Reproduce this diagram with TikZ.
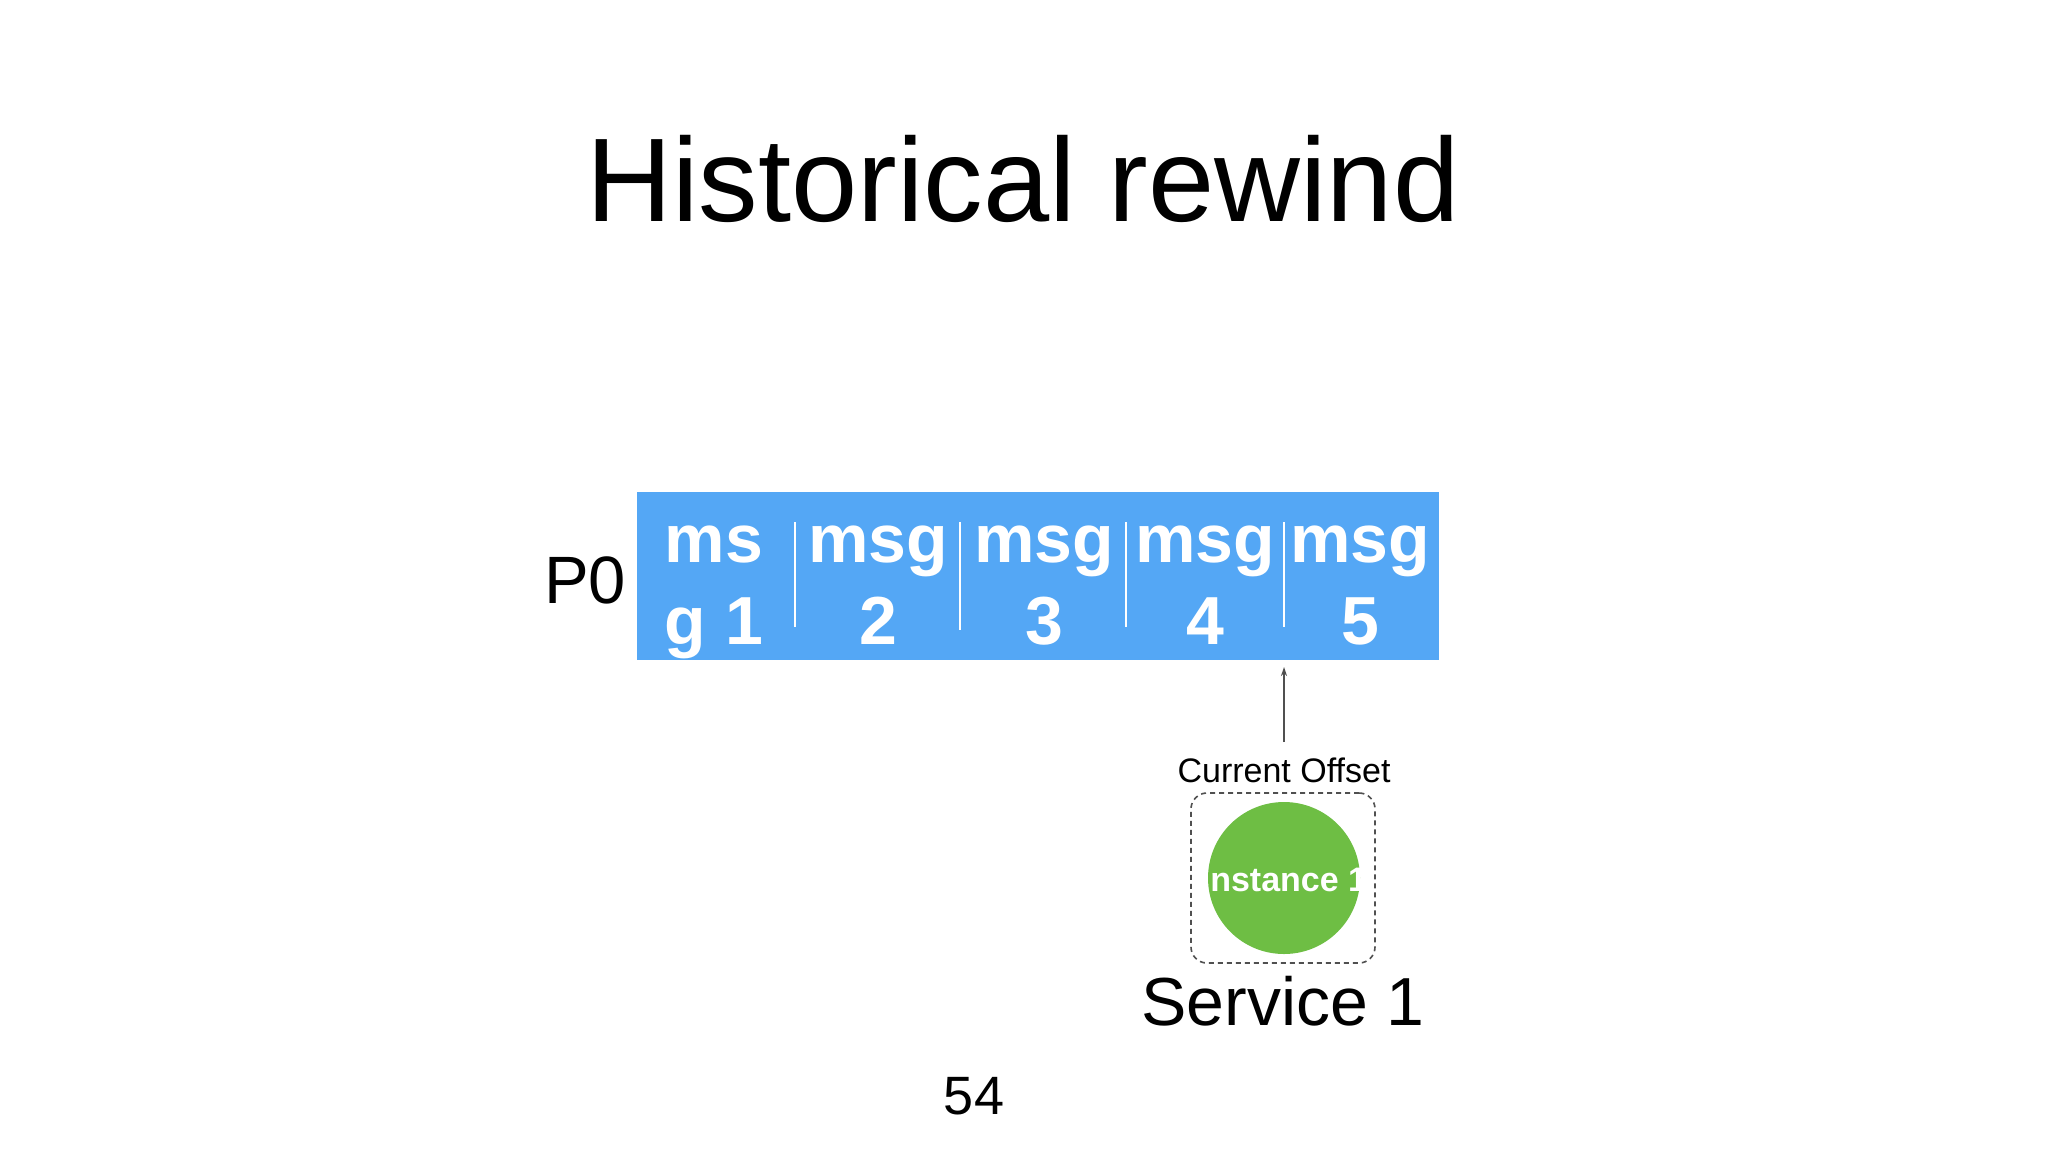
\documentclass[tikz,border=0pt]{standalone}
\usepackage{fontspec}
\setmainfont{Liberation Sans}
\usetikzlibrary{arrows.meta}
\definecolor{barblue}{RGB}{84,167,245}
\definecolor{instgreen}{RGB}{110,190,68}
\definecolor{arrowgray}{RGB}{80,80,80}
\tikzset{
  celltext/.style={anchor=base, text=white, align=center, inner sep=0pt,
    font=\bfseries\fontsize{68}{82}\selectfont},
  divider/.style={draw=white, line width=1.5pt},
  plain/.style={anchor=base, inner sep=0pt, text=black}
}
\begin{document}
\begin{tikzpicture}[x=1pt,y=-1pt]
\useasboundingbox[fill=white] (0,0) rectangle (2048,1152);
% title
\node[plain, font=\fontsize{119}{140}\selectfont] (title) at (1023,221) {Historical rewind};
% bar
\node[fill=barblue, minimum width=802pt, minimum height=168pt, inner sep=0pt] (bar) at (1038,576) {};
\draw[divider] (795,522) -- (795,627);
\draw[divider] (960,522) -- (960,630);
\draw[divider] (1126,522) -- (1126,627);
\draw[divider] (1284,522) -- (1284,627);
\node[celltext] (c1) at (714,644) {ms\\g 1};
\node[celltext] (c2) at (878,644) {msg\\2};
\node[celltext] (c3) at (1044,644) {msg\\3};
\node[celltext] (c4) at (1205,644) {msg\\4};
\node[celltext] (c5) at (1360,644) {msg\\5};
% P0
\node[plain, font=\fontsize{67}{80}\selectfont] (p0) at (585,603) {P0};
% arrow
\coordinate (tail) at (1284,742);
\coordinate (tip) at (1284,667);
\draw[arrowgray, line width=1.6pt, -{Stealth[length=9pt,width=6pt]}] (tail) -- (tip);
\node[plain, font=\fontsize{34}{40}\selectfont] (off) at (1284,782) {Current Offset};
% dashed box
\node[draw=arrowgray, dashed, dash pattern=on 5pt off 4pt, line width=1.6pt, rounded corners=16pt,
  minimum width=184pt, minimum height=170pt] (svc) at (1283,878) {};
% instance circle
\node[circle, fill=instgreen, minimum size=152pt, inner sep=0pt] (inst) at (1284,878) {};
\begin{scope}
\clip (1284,878) circle (76);
\node[text=white, font=\bfseries\fontsize{34}{40}\selectfont, inner sep=0pt] (instlbl) at (1284,880) {Instance 1};
\end{scope}
\node[plain, font=\fontsize{68}{82}\selectfont] (svclbl) at (1283,1025) {Service 1};
\node[plain, font=\fontsize{54}{64}\selectfont] (pg) at (974,1114) {54};
\end{tikzpicture}
\end{document}
